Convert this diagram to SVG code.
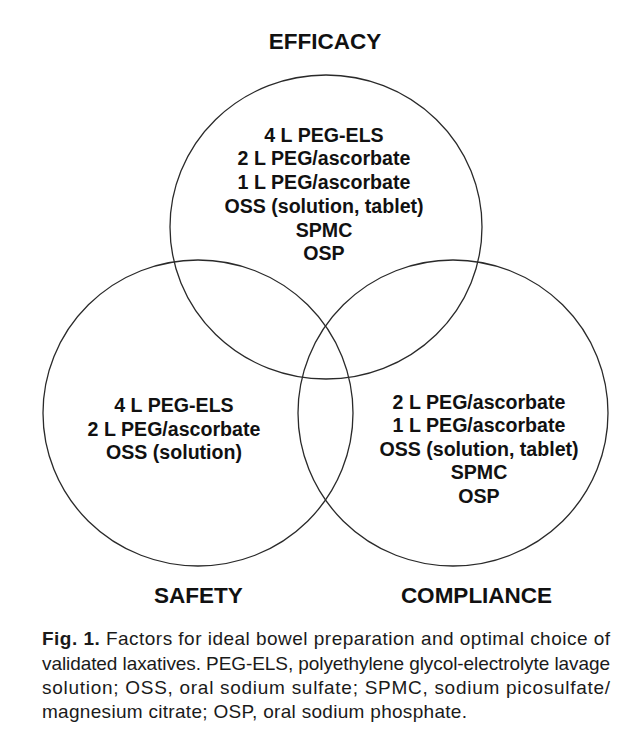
<svg xmlns="http://www.w3.org/2000/svg" width="635" height="747" viewBox="0 0 635 747">
<style>
.c{fill:none;stroke:#2a2a2a;stroke-width:1.3}
.t{font-family:"Liberation Sans",Arial,sans-serif;font-weight:bold;font-size:22.5px;fill:#111;text-anchor:middle}
.b{font-family:"Liberation Sans",Arial,sans-serif;font-weight:bold;font-size:19.6px;fill:#111;text-anchor:middle}
.cap{font-family:"Liberation Sans",Arial,sans-serif;font-size:19px;fill:#1a1a1a}
</style>
<rect width="635" height="747" fill="#fff"/>
<g id="efficacy">
<ellipse class="c" cx="326" cy="227" rx="156" ry="152"/>
<text class="t" x="325" y="49">EFFICACY</text>
<text class="b" x="324" y="141.5">4 L PEG-ELS</text>
<text class="b" x="324" y="165.3">2 L PEG/ascorbate</text>
<text class="b" x="324" y="189">1 L PEG/ascorbate</text>
<text class="b" x="324" y="212.8">OSS (solution, tablet)</text>
<text class="b" x="324" y="236.6">SPMC</text>
<text class="b" x="324" y="260.4">OSP</text>
</g>
<g id="safety">
<ellipse class="c" cx="198" cy="413" rx="155" ry="153"/>
<text class="t" x="198.5" y="603">SAFETY</text>
<text class="b" x="174" y="412">4 L PEG-ELS</text>
<text class="b" x="174" y="435.7">2 L PEG/ascorbate</text>
<text class="b" x="174" y="459">OSS (solution)</text>
</g>
<g id="compliance">
<ellipse class="c" cx="453" cy="413" rx="155" ry="153"/>
<text class="t" x="476.5" y="603">COMPLIANCE</text>
<text class="b" x="479" y="408.5">2 L PEG/ascorbate</text>
<text class="b" x="479" y="432">1 L PEG/ascorbate</text>
<text class="b" x="479" y="455.7">OSS (solution, tablet)</text>
<text class="b" x="479" y="479.3">SPMC</text>
<text class="b" x="479" y="503">OSP</text>
</g>
<g id="connectors"></g>
<g id="caption">
<text class="cap" x="42" y="645" textLength="568" lengthAdjust="spacing"><tspan font-weight="bold">Fig. 1.</tspan> Factors for ideal bowel preparation and optimal choice of</text>
<text class="cap" x="42" y="669.5" textLength="568" lengthAdjust="spacing">validated laxatives. PEG-ELS, polyethylene glycol-electrolyte lavage</text>
<text class="cap" x="42" y="694" textLength="568" lengthAdjust="spacing">solution; OSS, oral sodium sulfate; SPMC, sodium picosulfate/</text>
<text class="cap" x="42" y="718" textLength="425" lengthAdjust="spacing">magnesium citrate; OSP, oral sodium phosphate.</text>
</g>
</svg>
